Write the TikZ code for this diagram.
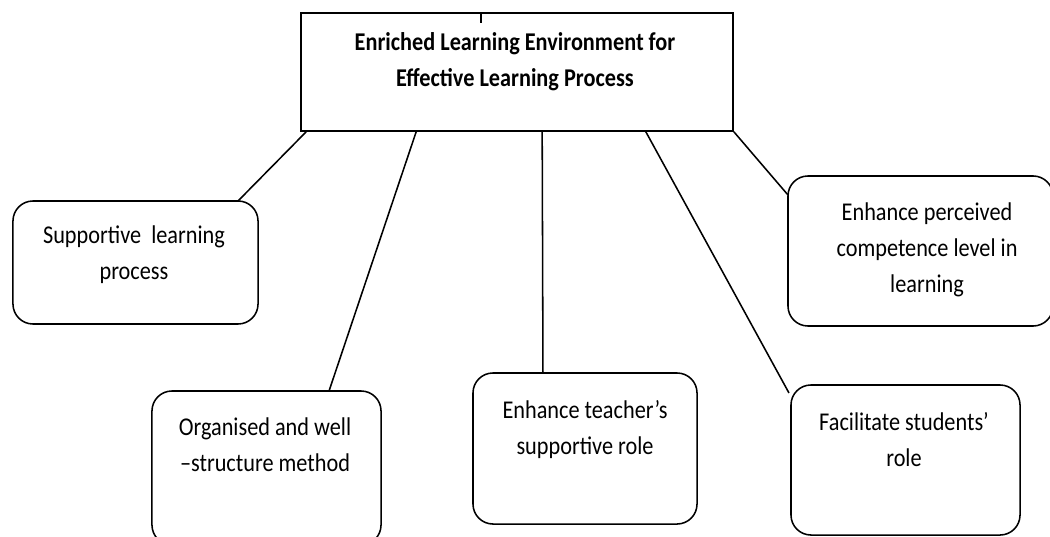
\documentclass[tikz,border=0pt]{standalone}
\usepackage{fontspec}
\setmainfont{Carlito}[FakeStretch=0.87]
\usetikzlibrary{calc}

\begin{document}
\begin{tikzpicture}[x=0.025cm, y=-0.025cm,
    box/.style={draw, line width=1.1pt, rounded corners=0.5cm, inner sep=0pt, outer sep=0pt},
    txt/.style={align=center, inner sep=0pt, font=\fontsize{18.2}{25.6}\selectfont},
    link/.style={line width=1.1pt}]
\useasboundingbox (0,0) rectangle (1050,537);
\clip (0,0) rectangle (1050,537);

% main box at the top
\node [draw, line width=1.1pt, inner sep=0pt, minimum width=10.8cm, minimum height=2.95cm] (env) at (517,72) {};
\node [txt, font=\bfseries\fontsize{18.2}{25.6}\selectfont] (envtxt) at (515,61.5)
    {Enriched Learning Environment for\\Effective Learning Process};
\draw [link] (env.north -| 481,0) -- ++(0,11);      % small stub

% the five boxes below
\node [box, minimum width=6.125cm, minimum height=3.075cm] (sup) at (135.5,262.5) {};
\node [txt] (suptxt) at (134,255) {Supportive\ \ learning\\process};

\node [box, minimum width=5.725cm, minimum height=3.85cm] (org) at (266.5,468) {};
\node [txt] (orgtxt) at (265,445) {Organised and well\\–structure method};

\node [box, minimum width=5.6cm, minimum height=3.775cm] (tea) at (585,448.5) {};
\node [txt] (teatxt) at (585,430) {Enhance teacher’s\\supportive role};

\node [box, minimum width=5.725cm, minimum height=3.75cm] (stu) at (905.5,460) {};
\node [txt] (stutxt) at (904,440) {Facilitate students’\\role};

\node [box, minimum width=6.625cm, minimum height=3.75cm] (comp) at (920.5,251) {};
\node [txt] (comptxt) at (927,250) {Enhance perceived\\competence level in\\learning};

% lines from the main box
\draw [link] ($(env.south west)+(6,0)$) -- ($(sup.north east)+(-20,0)$);
\draw [link] ($(env.south west)+(116,0)$) -- ($(org.north east)+(-52,0)$);
\draw [link] ($(env.south west)+(242,0)$) -- ($(tea.north west)+(70,0)$);
\draw [link] ($(env.south east)+(-88,0)$) -- ($(stu.north west)+(-2,8)$);
\draw [link] (env.south east) -- ($(comp.north west)+(0,19)$);

\end{tikzpicture}
\end{document}
